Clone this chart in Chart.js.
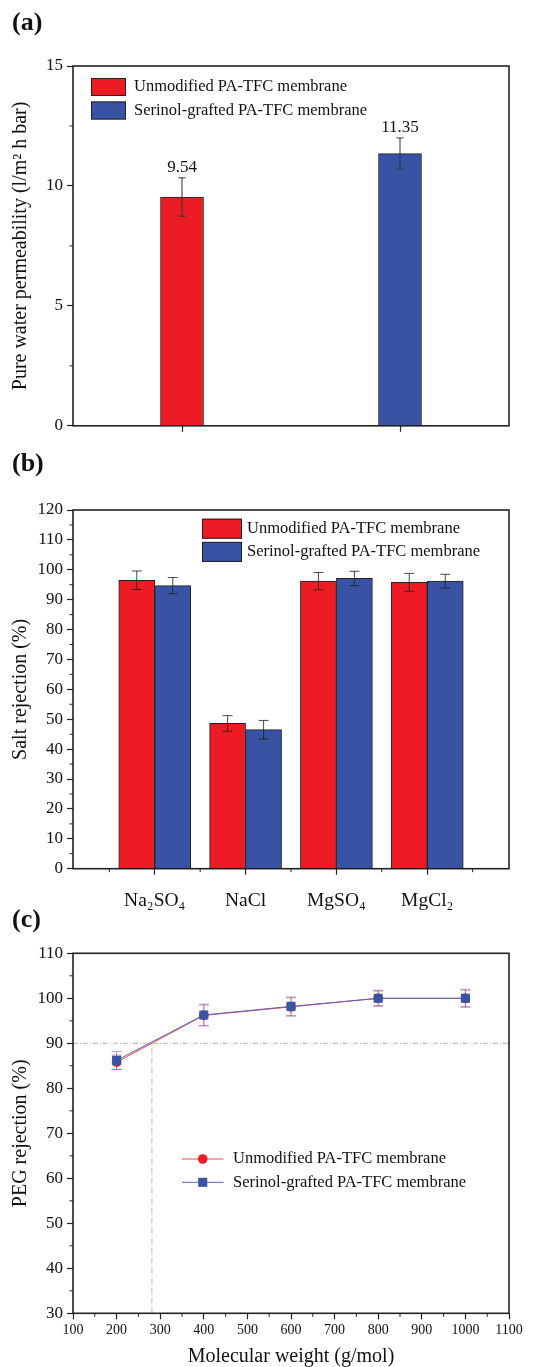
<!DOCTYPE html>
<html>
<head>
<meta charset="utf-8">
<title>PA-TFC membrane performance</title>
<script src="https://cdn.jsdelivr.net/npm/chart.js@4.4.0/dist/chart.umd.min.js"></script>
<style>
  body { margin: 0; background: #fff; }
  #page { position: relative; width: 536px; height: 1367px; }
  canvas { position: absolute; left: 0; }
  .tag { position: absolute; left: 12px; font: bold 26px "Liberation Serif", serif; line-height: 26px; color: #111; }
</style>
</head>
<body>
<div id="page">
  <canvas id="chartA" width="536" height="440" style="top:0"></canvas>
  <canvas id="chartB" width="536" height="485" style="top:440px"></canvas>
  <canvas id="chartC" width="536" height="442" style="top:925px"></canvas>
  <div class="tag" style="top:9px">(a)</div>
  <div class="tag" style="top:450px">(b)</div>
  <div class="tag" style="top:906px">(c)</div>
</div>
<script>
// series names
const membranes = ["Unmodified PA-TFC membrane", "Serinol-grafted PA-TFC membrane"];

// (a) pure water permeability, l/m2 h bar
const permeability = [9.54, 11.35];
const permeabilityErr = [0.8, 0.65];

// (b) salt rejection, %
const salts = ["Na₂SO₄", "NaCl", "MgSO₄", "MgCl₂"];
const saltUnmodified = [96.5, 48.6, 96.2, 95.8];
const saltUnmodifiedErr = [3.1, 2.6, 2.9, 3.0];
const saltSerinol = [94.7, 46.5, 97.1, 96.2];
const saltSerinolErr = [2.7, 3.1, 2.4, 2.3];

// (c) PEG rejection, %
const pegWeights = [200, 400, 600, 800, 1000];
const pegUnmodified = [85.8, 96.2, 98.1, 100.0, 100.0];
const pegUnmodifiedErr = [1.6, 2.3, 2.0, 1.6, 1.8];
const pegSerinol = [86.2, 96.3, 98.2, 100.0, 100.0];
const pegSerinolErr = [2.0, 2.4, 2.1, 1.8, 2.0];
const weightRange = [100, 1100];
const pegRange = [30, 110];
const cutoffLevel = 90;    // 90 % rejection
const cutoffWeight = 281;  // MWCO

const RED = "#ED1C24";
const BLUE = "#3953A4";
const FONT = '"Liberation Serif", "Times New Roman", serif';
Chart.defaults.font.family = FONT;
Chart.defaults.color = "#111";

// box around the plot + small minor ticks between the major ones
const framePlugin = {
  id: "frame",
  afterDraw(chart, args, opts) {
    const {ctx, chartArea: a} = chart;
    ctx.save();
    ctx.strokeStyle = "#222";
    ctx.lineWidth = 1.6;
    ctx.strokeRect(a.left, a.top, a.right - a.left, a.bottom - a.top);
    ctx.lineWidth = 1;
    (opts.minor || []).forEach(id => {
      const s = chart.scales[id];
      const v = s.ticks.map(t => t.value);
      const step = v[1] - v[0];
      for (let m = v[0] - step / 2; m <= s.max + 1e-9; m += step) {
        if (m < s.min) continue;
        const p = s.getPixelForValue(m);
        ctx.beginPath();
        if (s.isHorizontal()) {
          ctx.moveTo(p, a.bottom); ctx.lineTo(p, a.bottom + 3.5);
        } else {
          ctx.moveTo(a.left, p); ctx.lineTo(a.left - 3.5, p);
        }
        ctx.stroke();
      }
    });
    ctx.restore();
  }
};

// error bars (and optional value labels) from dataset.errors
function drawErrors(chart, opts) {
  const {ctx} = chart;
  const y = chart.scales.y;
  chart.data.datasets.forEach((ds, di) => {
    if (!ds.errors) return;
    const meta = chart.getDatasetMeta(di);
    ctx.save();
    ctx.strokeStyle = ds.errorColor || "#333";
    ctx.lineWidth = 1;
    meta.data.forEach((el, i) => {
      const raw = ds.data[i];
      const v = raw !== null && typeof raw === "object" ? raw.y : raw;
      if (v == null) return;
      const e = ds.errors[i];
      const top = y.getPixelForValue(v + e);
      const bot = y.getPixelForValue(v - e);
      const c = opts.cap / 2;
      ctx.beginPath();
      ctx.moveTo(el.x, top); ctx.lineTo(el.x, bot);
      ctx.moveTo(el.x - c, top); ctx.lineTo(el.x + c, top);
      ctx.moveTo(el.x - c, bot); ctx.lineTo(el.x + c, bot);
      ctx.stroke();
      if (opts.values) {
        ctx.fillStyle = "#111";
        ctx.font = "17px " + FONT;
        ctx.textAlign = "center";
        ctx.textBaseline = "alphabetic";
        ctx.fillText(v.toFixed(2), el.x, top - 6);
      }
    });
    ctx.restore();
  });
}
const errorBarPlugin = {
  id: "errorBars",
  beforeDatasetsDraw(chart, args, opts) { if (opts.under) drawErrors(chart, opts); },
  afterDatasetsDraw(chart, args, opts) { if (!opts.under) drawErrors(chart, opts); }
};

// Origin-style legend drawn inside the plot
const keyPlugin = {
  id: "key",
  afterDraw(chart, args, o) {
    const {ctx} = chart;
    ctx.save();
    ctx.font = "16.5px " + FONT;
    ctx.textBaseline = "middle";
    ctx.textAlign = "left";
    chart.data.datasets.filter(ds => ds.label).forEach((ds, i) => {
      const cy = o.y + i * o.rowGap;
      if (o.kind === "box") {
        ctx.fillStyle = ds.backgroundColor;
        ctx.fillRect(o.x, cy - o.h / 2, o.w, o.h);
        ctx.strokeStyle = "#222";
        ctx.lineWidth = 1;
        ctx.strokeRect(o.x + 0.5, cy - o.h / 2 + 0.5, o.w - 1, o.h - 1);
      } else {
        ctx.strokeStyle = ds.borderColor;
        ctx.lineWidth = 1;
        ctx.beginPath();
        ctx.moveTo(o.x, cy); ctx.lineTo(o.x + o.w, cy);
        ctx.stroke();
        ctx.fillStyle = ds.pointBackgroundColor;
        Chart.helpers.drawPoint(ctx, {pointStyle: ds.pointStyle, radius: ds.pointRadius, borderWidth: 0, rotation: 0}, o.x + o.w / 2, cy);
      }
      ctx.fillStyle = "#111";
      ctx.fillText(ds.label, o.x + o.w + o.textGap, cy);
    });
    ctx.restore();
  }
};

const tickGrid = { drawOnChartArea: false, tickLength: 6, tickColor: "#222", tickWidth: 1.2 };
const yTitle = text => ({ display: true, text: text, font: { size: 20 }, color: "#111", padding: { top: 9, bottom: 0 } });

// (a)
new Chart(document.getElementById("chartA"), {
  type: "bar",
  data: {
    labels: membranes,
    datasets: membranes.map((m, i) => ({
      label: m,
      data: permeability.map((v, j) => (j === i ? v : null)),
      errors: permeabilityErr,
      errorColor: "#333",
      backgroundColor: [RED, BLUE][i],
      borderColor: "#222",
      borderWidth: 1,
      barThickness: 43,
      grouped: false
    }))
  },
  options: {
    responsive: false,
    animation: false,
    layout: { padding: { top: 66, right: 27, left: 0, bottom: 0 } },
    plugins: {
      legend: { display: false },
      tooltip: { enabled: false },
      frame: { minor: ["y"] },
      errorBars: { cap: 7, values: true },
      key: { kind: "box", x: 91, y: 87, w: 35, h: 18, rowGap: 23.5, textGap: 8 }
    },
    scales: {
      x: {
        offset: true,
        grid: Object.assign({ offset: false }, tickGrid),
        border: { display: false },
        ticks: { display: false },
        afterFit: s => { s.height = 14; }
      },
      y: {
        min: 0, max: 15,
        ticks: { stepSize: 5, font: { size: 17 }, padding: 4 },
        grid: tickGrid,
        border: { display: false },
        title: yTitle("Pure water permeability (l/m² h bar)"),
        afterFit: s => { s.width = 73; }
      }
    }
  },
  plugins: [framePlugin, errorBarPlugin, keyPlugin]
});

// (b)
new Chart(document.getElementById("chartB"), {
  type: "bar",
  data: {
    datasets: [
      { label: membranes[0], data: salts.map((s, i) => ({ x: i + 1, y: saltUnmodified[i] })), errors: saltUnmodifiedErr, backgroundColor: RED },
      { label: membranes[1], data: salts.map((s, i) => ({ x: i + 1, y: saltSerinol[i] })), errors: saltSerinolErr, backgroundColor: BLUE }
    ].map(ds => Object.assign(ds, { borderColor: "#222", borderWidth: 1, barThickness: 36, errorColor: "rgba(30,30,30,0.8)" }))
  },
  options: {
    responsive: false,
    animation: false,
    layout: { padding: { top: 70, right: 27, left: 0, bottom: 0 } },
    plugins: {
      legend: { display: false },
      tooltip: { enabled: false },
      frame: { minor: ["x", "y"] },
      errorBars: { cap: 10 },
      key: { kind: "box", x: 202, y: 88.7, w: 40, h: 20, rowGap: 23.2, textGap: 5 }
    },
    scales: {
      x: {
        type: "linear",
        min: 0.1, max: 4.9,
        offset: false,
        afterBuildTicks: s => { s.ticks = salts.map((n, i) => ({ value: i + 1 })); },
        ticks: { callback: v => salts[v - 1], font: { size: 19.5 }, padding: 14, maxRotation: 0, autoSkip: false },
        grid: Object.assign({ offset: false }, tickGrid),
        border: { display: false },
        afterFit: s => { s.height = 56.3; }
      },
      y: {
        min: 0, max: 120,
        ticks: { stepSize: 10, font: { size: 17 }, padding: 4 },
        grid: tickGrid,
        border: { display: false },
        title: yTitle("Salt rejection (%)"),
        afterFit: s => { s.width = 73; }
      }
    }
  },
  plugins: [framePlugin, errorBarPlugin, keyPlugin]
});

// (c)
const pegPoints = vals => pegWeights.map((w, i) => ({ x: w, y: vals[i] }));
const refLine = { borderColor: "#b5b5b5", borderWidth: 1, borderDash: [5, 2, 1, 2], pointRadius: 0, fill: false, order: 3 };
new Chart(document.getElementById("chartC"), {
  type: "line",
  data: {
    datasets: [
      {
        label: membranes[0], data: pegPoints(pegUnmodified), errors: pegUnmodifiedErr,
        errorColor: "rgba(240,70,80,0.6)", borderColor: "#F0474D", borderWidth: 1,
        pointStyle: "circle", pointRadius: 4.8, pointBackgroundColor: RED, pointBorderWidth: 0, order: 2
      },
      {
        label: membranes[1], data: pegPoints(pegSerinol), errors: pegSerinolErr,
        errorColor: "rgba(90,100,200,0.6)", borderColor: "#5A62C0", borderWidth: 1,
        pointStyle: "rect", pointRadius: 6.4, pointBackgroundColor: BLUE, pointBorderWidth: 0, order: 1
      },
      Object.assign({ data: [{ x: weightRange[0], y: cutoffLevel }, { x: weightRange[1], y: cutoffLevel }] }, refLine),
      Object.assign({ data: [{ x: cutoffWeight, y: pegRange[0] }, { x: cutoffWeight, y: cutoffLevel }] }, refLine)
    ]
  },
  options: {
    responsive: false,
    animation: false,
    layout: { padding: { top: 28.3, right: 27, left: 0, bottom: 0 } },
    plugins: {
      legend: { display: false },
      tooltip: { enabled: false },
      frame: { minor: ["x", "y"] },
      errorBars: { cap: 10, under: true },
      key: { kind: "line", x: 182, y: 234, w: 41.5, rowGap: 23.3, textGap: 9.5 }
    },
    scales: {
      x: {
        type: "linear",
        min: weightRange[0], max: weightRange[1],
        ticks: { stepSize: 100, callback: v => String(v), font: { size: 14 }, padding: 3, maxRotation: 0, autoSkip: false },
        grid: tickGrid,
        border: { display: false },
        title: { display: true, text: "Molecular weight (g/mol)", font: { size: 20, lineHeight: 1 }, color: "#111", padding: { top: 0, bottom: 0 } },
        afterFit: s => { s.height = 53.7; }
      },
      y: {
        min: pegRange[0], max: pegRange[1],
        ticks: { stepSize: 10, font: { size: 17 }, padding: 4 },
        grid: tickGrid,
        border: { display: false },
        title: yTitle("PEG rejection (%)"),
        afterFit: s => { s.width = 73; }
      }
    }
  },
  plugins: [framePlugin, errorBarPlugin, keyPlugin]
});
</script>
</body>
</html>
